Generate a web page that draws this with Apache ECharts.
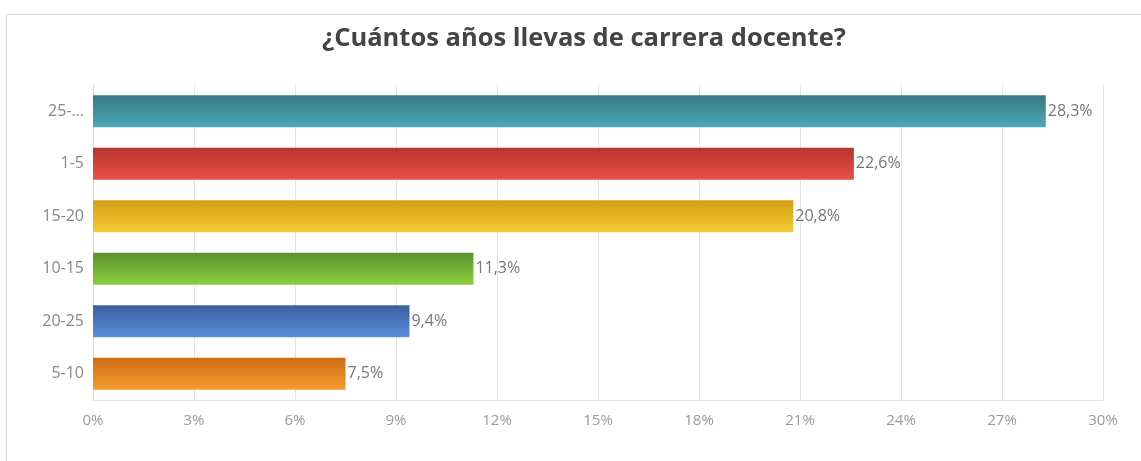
<!DOCTYPE html>
<html>
<head>
<meta charset="utf-8">
<script src="https://cdn.jsdelivr.net/npm/echarts@6/dist/echarts.min.js"></script>
<style>
html,body{margin:0;padding:0;background:#fff;}
#frame{position:absolute;left:6px;top:14px;width:1140px;height:460px;border:1px solid #dcdcdc;box-sizing:border-box;}
#chart{position:absolute;left:0;top:0;width:1141px;height:461px;}
</style>
</head>
<body>
<div id="frame"></div>
<div id="chart"></div>
<script>
const categories = ['25-…', '1-5', '15-20', '10-15', '20-25', '5-10'];
const values = [28.3, 22.6, 20.8, 11.3, 9.4, 7.5];
const colorsTop = ['#367a83', '#b3352f', '#d49c16', '#5a9230', '#3a5f9f', '#cc6c14'];
const colorsBottom = ['#4ea7b6', '#ef4f48', '#f4cc32', '#8ccf3e', '#5a8fdc', '#f69c30'];
const xTicks = [0, 3, 6, 9, 12, 15, 18, 21, 24, 27, 30];

const chart = echarts.init(document.getElementById('chart'), null, {renderer: 'canvas'});
const data = values.map((v, i) => ({
  value: v,
  itemStyle: {
    color: new echarts.graphic.LinearGradient(0, 0, 0, 1, [
      {offset: 0, color: colorsTop[i]},
      {offset: 1, color: colorsBottom[i]}
    ])
  }
}));
chart.setOption({
  animation: false,
  textStyle: {fontFamily: 'Open Sans'},
  title: {
    text: '¿Cuántos años llevas de carrera docente?',
    left: 317,
    top: 21,
    textStyle: {fontFamily: 'Open Sans', fontSize: 25.5, fontWeight: 'bold', color: '#444'}
  },
  grid: {left: 93, right: 38, top: 85, bottom: 61, containLabel: false},
  xAxis: {
    type: 'value',
    min: xTicks[0],
    max: xTicks[xTicks.length - 1],
    interval: 3,
    axisLine: {show: true, lineStyle: {color: '#e2e2e2'}},
    axisTick: {show: false},
    splitLine: {show: true, lineStyle: {color: '#e4e4e4'}},
    axisLabel: {formatter: '{value}%', color: '#999', fontSize: 15, margin: 13}
  },
  yAxis: {
    type: 'category',
    data: categories,
    inverse: true,
    axisLine: {show: true, lineStyle: {color: '#cfd8e6'}},
    axisTick: {show: false},
    axisLabel: {color: '#888', fontSize: 16, margin: 9}
  },
  series: [{
    type: 'bar',
    data: data,
    barWidth: 32,
    label: {
      show: true,
      position: 'right',
      distance: 2,
      color: '#777',
      fontSize: 16,
      formatter: p => p.value.toFixed(1).replace('.', ',') + '%'
    }
  }]
});
</script>
</body>
</html>
